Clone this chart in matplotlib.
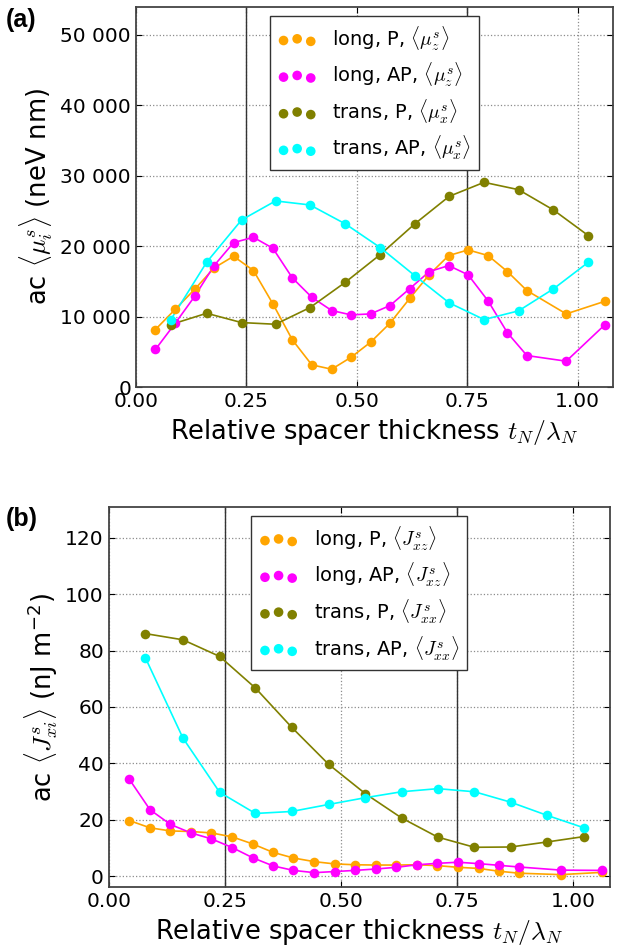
import matplotlib
matplotlib.use("Agg")
import matplotlib.pyplot as plt
from matplotlib.ticker import FuncFormatter

plt.rcParams['font.family'] = ['DejaVu Sans']
plt.rcParams['mathtext.fontset'] = 'cm'

# Sampling positions (relative spacer thickness)
x_long = [0.044, 0.089, 0.133, 0.177, 0.221, 0.266, 0.310, 0.354, 0.398, 0.443, 0.487,
          0.531, 0.575, 0.620, 0.664, 0.708, 0.752, 0.797, 0.841, 0.885, 0.974, 1.062]
x_trans = [0.079, 0.160, 0.239, 0.316, 0.394, 0.474, 0.553, 0.631, 0.709, 0.788, 0.866, 0.945, 1.024]

# (a) ac <mu_i^s> in neV nm
mu_long_P = [8180, 11060, 13900, 16930, 18580, 16550, 11820, 6720, 3170, 2550, 4250,
             6380, 9080, 12620, 15980, 18680, 19480, 18680, 16400, 13710, 10400, 12200]
mu_long_AP = [5350, 9080, 12900, 17260, 20520, 21270, 19710, 15510, 12760, 10880, 10260,
              10400, 11580, 14000, 16400, 17260, 15940, 12250, 7710, 4490, 3690, 8890]
mu_trans_P = [8890, 10490, 9170, 8930, 11300, 14890, 18820, 23170, 27080, 29070, 28030, 25150, 21510]
mu_trans_AP = [9600, 17730, 23730, 26430, 25860, 23170, 19810, 15840, 11970, 9600, 10830, 13950, 17730]

# (b) ac <J_xi^s> in nJ m^-2
J_long_P = [19.7, 17.1, 16.0, 15.8, 15.3, 13.9, 11.4, 8.4, 6.4, 5.1, 4.3,
            4.0, 3.9, 3.9, 4.0, 3.7, 3.1, 2.7, 1.7, 1.0, 0.5, 1.3]
J_long_AP = [34.4, 23.5, 18.3, 15.3, 13.2, 10.1, 6.5, 3.6, 2.0, 1.2, 1.6,
             2.0, 2.5, 3.1, 4.0, 4.5, 4.9, 4.4, 3.8, 3.2, 2.1, 2.0]
J_trans_P = [86.0, 83.8, 77.9, 66.7, 52.8, 39.6, 29.2, 20.6, 13.8, 10.2, 10.3, 12.1, 14.0]
J_trans_AP = [77.4, 48.9, 29.7, 22.2, 22.9, 25.4, 27.8, 29.9, 31.0, 29.9, 26.2, 21.5, 17.1]

colors = ['orange', 'magenta', 'olive', 'cyan']
xticks = [0.0, 0.25, 0.5, 0.75, 1.0]

fig = plt.figure(figsize=(6.18, 9.49), dpi=100)
ax1 = fig.add_axes([0.220, 0.592, 0.772, 0.401])
ax2 = fig.add_axes([0.176, 0.065, 0.811, 0.401])


def draw_panel(ax, series, labels):
    for (x, y), lab, c in zip(series, labels, colors):
        ax.plot(x, y, '-', color=c, lw=1.2, zorder=2)
        ax.scatter(x, y, s=48, color=c, linewidths=0, label=lab, zorder=3)
    ax.axvline(0.25, color='#333333', lw=1.0, zorder=1)
    ax.axvline(0.75, color='#333333', lw=1.0, zorder=1)
    ax.grid(True, linestyle=':', color='0.55', lw=0.9)
    ax.set_axisbelow(True)
    ax.set_xlim(0, 1.08)
    ax.set_xticks(xticks)
    ax.xaxis.set_major_formatter(FuncFormatter(lambda v, p: f"{v:.2f}"))
    ax.tick_params(direction='in', top=True, right=True, length=4, labelsize=14.5)
    for sp in ax.spines.values():
        sp.set_color('#444444')
        sp.set_linewidth(1.3)
    ax.set_xlabel(r'Relative spacer thickness $t_N/\lambda_N$', fontsize=18.5, labelpad=4)
    leg = ax.legend(loc='upper center', scatterpoints=3, fontsize=14, labelspacing=0.42,
                    fancybox=False, framealpha=1, edgecolor='#333333')
    leg.get_frame().set_linewidth(1.0)


draw_panel(ax1,
           [(x_long, mu_long_P), (x_long, mu_long_AP), (x_trans, mu_trans_P), (x_trans, mu_trans_AP)],
           [r'long, P, $\langle\mu_z^s\rangle$', r'long, AP, $\langle\mu_z^s\rangle$',
            r'trans, P, $\langle\mu_x^s\rangle$', r'trans, AP, $\langle\mu_x^s\rangle$'])
ax1.set_ylim(0, 54000)
ax1.set_yticks([0, 10000, 20000, 30000, 40000, 50000])
ax1.yaxis.set_major_formatter(FuncFormatter(lambda v, p: f"{int(v):,}".replace(',', ' ')))
ax1.set_ylabel(r'ac $\langle\mu_i^s\rangle$ (neV nm)', fontsize=18.5)

draw_panel(ax2,
           [(x_long, J_long_P), (x_long, J_long_AP), (x_trans, J_trans_P), (x_trans, J_trans_AP)],
           [r'long, P, $\langle J_{xz}^s\rangle$', r'long, AP, $\langle J_{xz}^s\rangle$',
            r'trans, P, $\langle J_{xx}^s\rangle$', r'trans, AP, $\langle J_{xx}^s\rangle$'])
ax2.set_ylim(-4, 131)
ax2.set_yticks([0, 20, 40, 60, 80, 100, 120])
ax2.set_ylabel(r'ac $\langle J_{xi}^s\rangle$ (nJ m$^{\mathregular{-2}}$)', fontsize=18.5)

fig.text(0.010, 0.992, '(a)', fontsize=18, fontweight='bold', family='Liberation Sans', va='top')
fig.text(0.010, 0.466, '(b)', fontsize=18, fontweight='bold', family='Liberation Sans', va='top')

fig.savefig('out.png', dpi=100)
